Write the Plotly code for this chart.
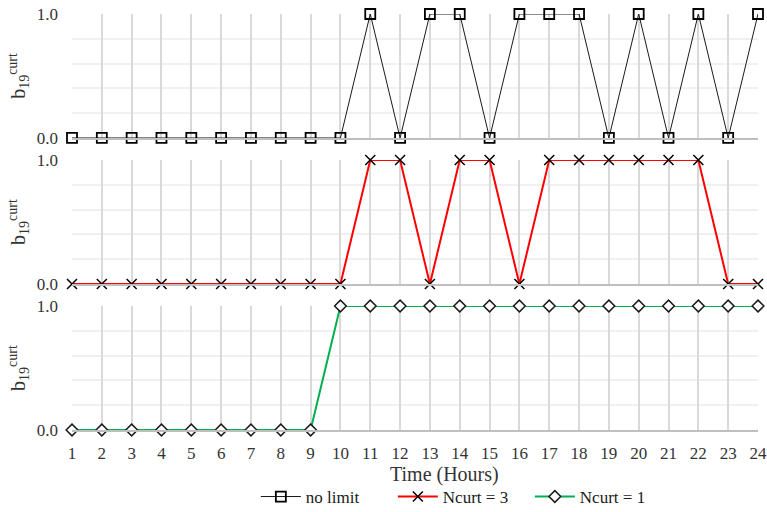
import plotly.graph_objects as go
from plotly.subplots import make_subplots

hours = list(range(1, 25))
no_limit = [0, 0, 0, 0, 0, 0, 0, 0, 0, 0, 1, 0, 1, 1, 0, 1, 1, 1, 0, 1, 0, 1, 0, 1]
ncurt3 = [0, 0, 0, 0, 0, 0, 0, 0, 0, 0, 1, 1, 0, 1, 1, 0, 1, 1, 1, 1, 1, 1, 0, 0]
ncurt1 = [0, 0, 0, 0, 0, 0, 0, 0, 0, 1, 1, 1, 1, 1, 1, 1, 1, 1, 1, 1, 1, 1, 1, 1]
x_labels = [str(h) for h in hours]
y_title = "b<sub>19</sub><sup>curt</sup>"
x_title = "Time (Hours)"

FONT = "Liberation Serif"

fig = make_subplots(rows=3, cols=1, shared_xaxes=True, vertical_spacing=0.05)

fig.add_trace(go.Scatter(
    x=hours, y=no_limit, name="no limit", mode="lines+markers",
    line=dict(color="#1a1a1a", width=1),
    marker=dict(symbol="square-open", size=10, color="black", line=dict(width=1.8, color="black")),
    cliponaxis=False), row=1, col=1)
fig.add_trace(go.Scatter(
    x=hours, y=ncurt3, name="Ncurt = 3", mode="lines+markers",
    line=dict(color="#ff0000", width=2),
    marker=dict(symbol="x-thin-open", size=10, color="black", line=dict(width=1.5, color="#1a1a1a")),
    cliponaxis=False), row=2, col=1)
fig.add_trace(go.Scatter(
    x=hours, y=ncurt1, name="Ncurt = 1", mode="lines+markers",
    line=dict(color="#00b050", width=2),
    marker=dict(symbol="diamond", size=9, color="white", line=dict(width=1.5, color="#1a1a1a")),
    cliponaxis=False), row=3, col=1)

domains = [[0.702, 1.0], [0.351, 0.649], [0.0, 0.298]]
for i in range(3):
    r = i + 1
    fig.update_yaxes(
        row=r, col=1, domain=domains[i], range=[0, 1],
        tickvals=[0, 1], ticktext=["0.0", "1.0"],
        showgrid=True, gridcolor="#d9d9d9", gridwidth=1.5,
        minor=dict(dtick=0.2, showgrid=True, gridcolor="#f0f0f0", gridwidth=1.5),
        zeroline=False, showline=False,
        tickfont=dict(family=FONT, size=17, color="#333333"),
        ticklabelstandoff=13,
        title=dict(text=y_title, font=dict(family=FONT, size=20, color="#333333"), standoff=5),
    )
    fig.update_xaxes(
        row=r, col=1, range=[1, 24], tickvals=hours, ticktext=x_labels,
        showgrid=True, gridcolor="#d9d9d9", gridwidth=1.5,
        zeroline=False, showline=True, linecolor="#bfbfbf", linewidth=2,
        tickfont=dict(family=FONT, size=17, color="#333333"),
        ticklabelstandoff=7, ticklabeloverflow="allow",
    )

fig.update_xaxes(row=3, col=1, showticklabels=True)

fig.add_annotation(text=x_title, xref="paper", yref="paper", x=0.543, y=-0.106,
                   xanchor="center", yanchor="middle", showarrow=False,
                   font=dict(family=FONT, size=20, color="#333333"))

fig.update_layout(
    width=767, height=512,
    margin=dict(l=72, r=9, t=14, b=82, autoexpand=False),
    paper_bgcolor="white", plot_bgcolor="white",
    font=dict(family=FONT, color="#333333"),
    showlegend=True,
    legend=dict(orientation="h", x=0.268, xanchor="left", y=-0.161, yanchor="middle",
                font=dict(family=FONT, size=17, color="#1a1a1a"),
                itemwidth=40, tracegroupgap=0,
                entrywidth=82, entrywidthmode="pixels"),
)

fig.write_html("out.html", config={"displayModeBar": False},
               post_script="document.body.style.margin='0px';")
